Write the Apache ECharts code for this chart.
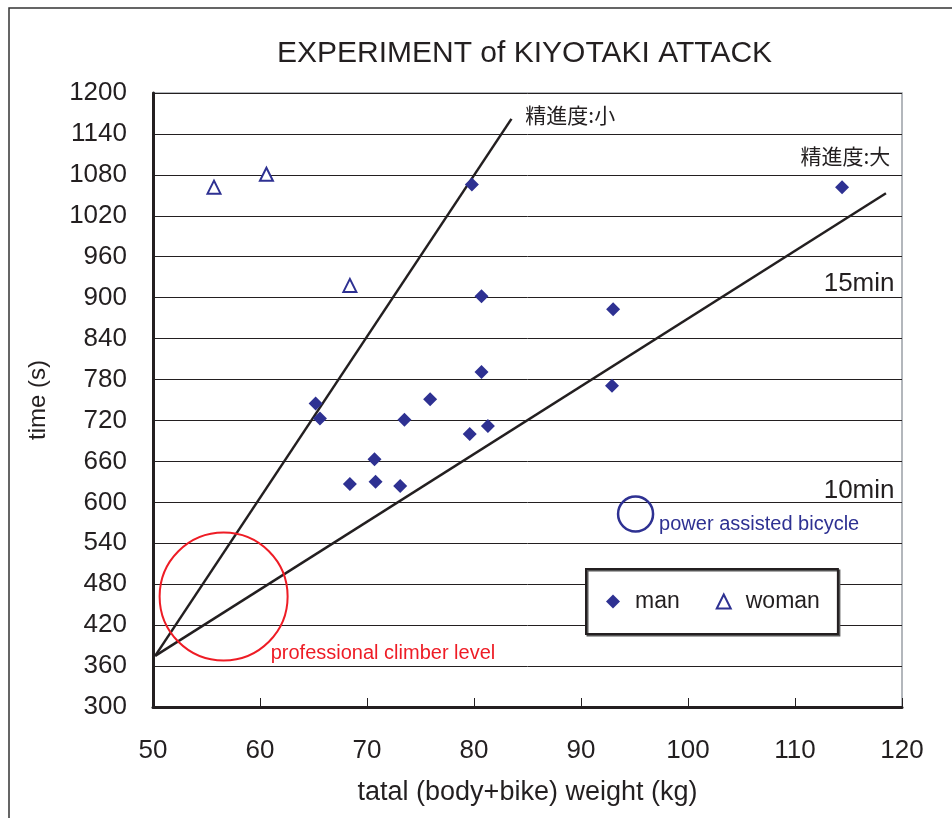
<!DOCTYPE html>
<html>
<head>
<meta charset="utf-8" />
<title>EXPERIMENT of KIYOTAKI ATTACK</title>
<script src="https://cdn.jsdelivr.net/npm/echarts@6/dist/echarts.min.js"></script>
<style>
  html, body { margin: 0; padding: 0; background: #fff; }
  #main { width: 952px; height: 818px; }
</style>
</head>
<body>
<div id="main"></div>
<script>
// total weight (kg), time (s)
var manData = [
  [65.2, 745], [65.6, 723], [68.4, 627], [70.7, 663], [70.8, 630], [73.1, 624],
  [73.5, 721], [75.9, 751], [79.6, 700], [79.8, 1066], [80.7, 902], [80.7, 791],
  [81.3, 712], [92.9, 771], [93.0, 883], [114.4, 1062]
];
var womanData = [[55.7, 1062], [60.6, 1081], [68.4, 918]];

// guide lines
var lineSmall = [[50.2, 375], [83.5, 1162]];   // 精進度:小
var lineLarge = [[50.2, 375], [118.5, 1053]];  // 精進度:大

// marked areas (circles)
var proCircle = [[56.6, 462]];
var assistCircle = [[95.1, 583]];

// text notes: [x, y, text]
var notesLeft = [
  [84.8, 1167, '精進度:小'],
  [97.3, 567, 'power assisted bicycle'],
  [61.0, 378, 'professional climber level']
];
var notesRight = [
  [118.9, 1108, '精進度:大'],
  [119.3, 921, '15min'],
  [119.3, 617, '10min']
];

var xTicks = [50, 120, 10];
var yTicks = [300, 1200, 60];

var BLUE = '#2e3192';
var RED = '#ee1c25';
var INK = '#231f20';
var FONT = "'Liberation Sans', Arial, sans-serif";
var CJK = "'Noto Sans CJK JP', sans-serif";

var myChart = echarts.init(document.getElementById('main'));

var option = {
  animation: false,
  textStyle: { fontFamily: FONT },
  title: {
    text: 'EXPERIMENT of KIYOTAKI ATTACK',
    left: 272,
    top: 34,
    textStyle: { fontSize: 30, fontWeight: 'normal', color: INK, fontFamily: FONT }
  },
  grid: {
    left: 153, top: 93, width: 749, height: 614,
    show: true, borderColor: '#9aa0a6', borderWidth: 1.5, backgroundColor: '#fff'
  },
  legend: {
    left: 586, top: 569,
    padding: [21, 18, 21, 20],
    itemGap: 36,
    itemWidth: 14, itemHeight: 14,
    backgroundColor: '#fff',
    borderColor: INK, borderWidth: 2,
    shadowColor: '#555', shadowOffsetX: 1.5, shadowOffsetY: 1.5, shadowBlur: 0,
    textStyle: { fontSize: 23, color: INK, fontFamily: FONT, padding: [0, 0, 0, 10] },
    data: [
      { name: 'man', icon: 'diamond', itemStyle: { color: BLUE, opacity: 1 } },
      { name: 'woman', icon: 'triangle', itemStyle: { color: '#fff', borderColor: BLUE, borderWidth: 2, opacity: 1 } }
    ]
  },
  xAxis: {
    type: 'value',
    min: xTicks[0], max: xTicks[1], interval: xTicks[2],
    name: 'tatal (body+bike) weight (kg)',
    nameLocation: 'middle',
    nameGap: 72,
    nameTextStyle: { fontSize: 27, color: INK, fontFamily: FONT },
    axisLine: { lineStyle: { color: INK, width: 3 } },
    axisTick: { inside: true, length: 9, lineStyle: { color: INK, width: 1 } },
    axisLabel: { fontSize: 26, color: INK, margin: 31, fontFamily: FONT },
    splitLine: { show: false }
  },
  yAxis: {
    type: 'value',
    min: yTicks[0], max: yTicks[1], interval: yTicks[2],
    name: 'time (s)',
    nameLocation: 'middle',
    nameRotate: 90,
    nameGap: 103,
    nameTextStyle: { fontSize: 24, color: INK, fontFamily: FONT },
    axisLine: { lineStyle: { color: INK, width: 3 } },
    axisTick: { inside: true, length: 10, lineStyle: { color: INK, width: 1 } },
    axisLabel: {
      fontSize: 26, color: INK, margin: 26, fontFamily: FONT,
      formatter: function (v) { return String(v); }
    },
    splitLine: { lineStyle: { color: INK, width: 1 } }
  },
  graphic: [{
    type: 'rect',
    shape: { x: 9, y: 8, width: 1200, height: 1200 },
    style: { fill: 'none', stroke: '#333', lineWidth: 1.5 },
    z: 100
  }],
  series: [
    {
      type: 'line', data: lineSmall, symbol: 'none', silent: true,
      lineStyle: { color: INK, width: 2.5 }, z: 2
    },
    {
      type: 'line', data: lineLarge, symbol: 'none', silent: true,
      lineStyle: { color: INK, width: 2.5 }, z: 2
    },
    {
      type: 'scatter', data: proCircle, symbol: 'circle', symbolSize: 128, silent: true,
      itemStyle: { color: 'rgba(0,0,0,0)', borderColor: RED, borderWidth: 2, opacity: 1 }, z: 3
    },
    {
      type: 'scatter', data: assistCircle, symbol: 'circle', symbolSize: 35, silent: true,
      itemStyle: { color: 'rgba(0,0,0,0)', borderColor: BLUE, borderWidth: 2.5, opacity: 1 }, z: 3
    },
    {
      name: 'man', type: 'scatter', data: manData, symbol: 'diamond', symbolSize: 14,
      itemStyle: { color: BLUE, opacity: 1 }, z: 4
    },
    {
      name: 'woman', type: 'scatter', data: womanData, symbol: 'triangle', symbolSize: 13,
      itemStyle: { color: '#fff', borderColor: BLUE, borderWidth: 2, opacity: 1 }, z: 4
    },
    {
      type: 'scatter', symbolSize: 0, silent: true, z: 5,
      itemStyle: { opacity: 1 },
      data: [
        { value: notesLeft[0].slice(0, 2), name: notesLeft[0][2],
          label: { fontSize: 21, color: INK, fontFamily: CJK } },
        { value: notesLeft[1].slice(0, 2), name: notesLeft[1][2],
          label: { fontSize: 20, color: BLUE, fontFamily: FONT } },
        { value: notesLeft[2].slice(0, 2), name: notesLeft[2][2],
          label: { fontSize: 20, color: RED, fontFamily: FONT } }
      ],
      label: { show: true, position: 'right', distance: 0, formatter: '{b}', opacity: 1 },
      labelLayout: { hideOverlap: false }
    },
    {
      type: 'scatter', symbolSize: 0, silent: true, z: 5,
      itemStyle: { opacity: 1 },
      data: [
        { value: notesRight[0].slice(0, 2), name: notesRight[0][2],
          label: { fontSize: 21, color: INK, fontFamily: CJK } },
        { value: notesRight[1].slice(0, 2), name: notesRight[1][2],
          label: { fontSize: 26, color: INK, fontFamily: FONT } },
        { value: notesRight[2].slice(0, 2), name: notesRight[2][2],
          label: { fontSize: 26, color: INK, fontFamily: FONT } }
      ],
      label: { show: true, position: 'left', distance: 0, formatter: '{b}', opacity: 1 },
      labelLayout: { hideOverlap: false }
    }
  ]
};
myChart.setOption(option);
</script>
</body>
</html>
